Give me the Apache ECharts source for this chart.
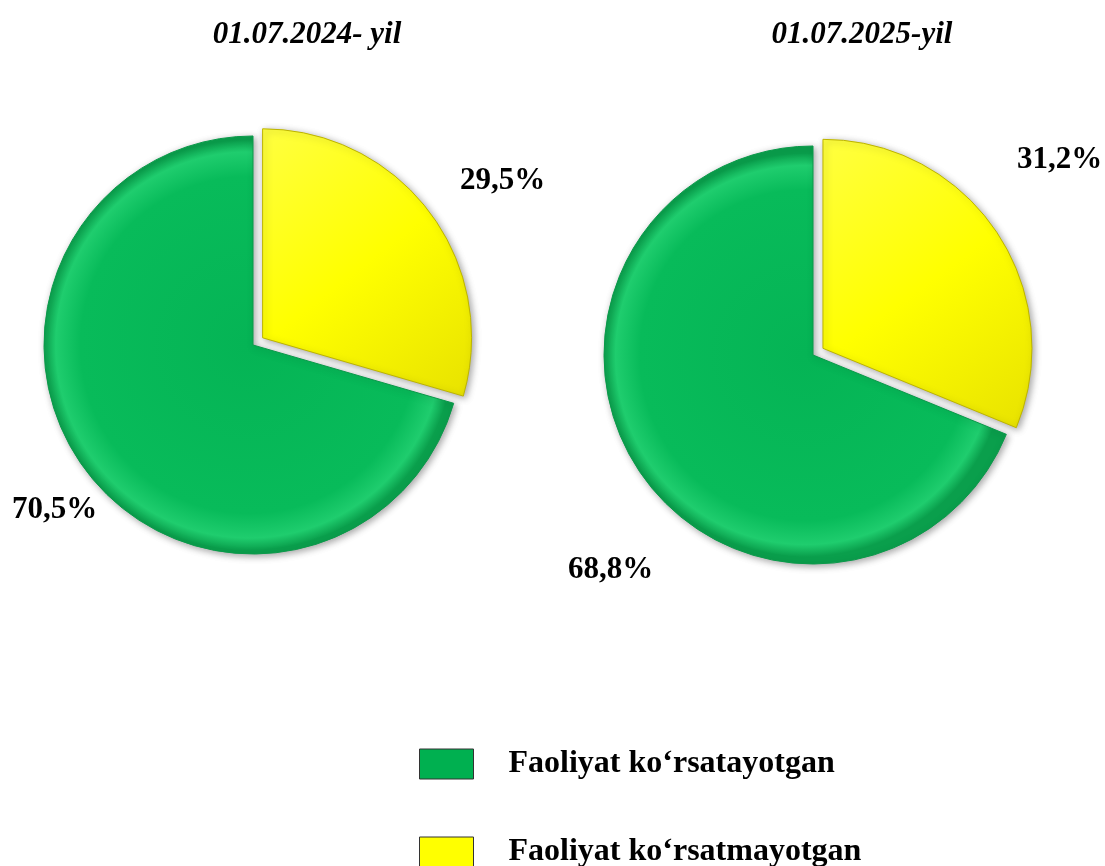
<!DOCTYPE html>
<html>
<head>
<meta charset="utf-8">
<script src="https://cdn.jsdelivr.net/npm/echarts@6/dist/echarts.min.js"></script>
<style>
  html, body { margin: 0; padding: 0; background: #fff; }
  #chart { width: 1105px; height: 866px; }
</style>
</head>
<body>
<div id="chart"></div>
<script>
// data
const categories = ["Faoliyat ko‘rsatmayotgan", "Faoliyat ko‘rsatayotgan"];
const legendOrder = ["Faoliyat ko‘rsatayotgan", "Faoliyat ko‘rsatmayotgan"];
const periods = ["01.07.2024- yil", "01.07.2025-yil"];
const share2024 = [29.5, 70.5];
const share2025 = [31.2, 68.8];
const labels2024 = ["29,5%", "70,5%"];
const labels2025 = ["31,2%", "68,8%"];

// label anchors (left edge, vertical middle) per pie / slice
const labelPos = [
  [[460, 181], [12, 510]],
  [[1017, 160], [568, 570]]
];

const font = "'Liberation Serif', 'DejaVu Serif', serif";
const pieRadius = 209;
const explode = 12;

const greenFill = {
  type: "radial", x: 0.5, y: 0.5, r: 0.5,
  colorStops: [
    { offset: 0, color: "#05b455" },
    { offset: 0.82, color: "#08bb5a" },
    { offset: 0.94, color: "#1fcd6e" },
    { offset: 1, color: "#0a9f4c" }
  ]
};
const yellowFill = {
  type: "linear", x: 0, y: 0, x2: 1, y2: 1,
  colorStops: [
    { offset: 0, color: "#ffff40" },
    { offset: 0.5, color: "#ffff00" },
    { offset: 1, color: "#e8e200" }
  ]
};
const hidden = { color: "rgba(0,0,0,0)", borderWidth: 0, shadowBlur: 0 };

// one layer of a pie: only slice `show` is painted, the other one stays empty
function layer(idx, center, values, texts, show) {
  return {
    name: periods[idx],
    type: "pie",
    center: center,
    radius: pieRadius,
    startAngle: 90,
    clockwise: true,
    animation: false,
    silent: true,
    emphasis: { disabled: true },
    itemStyle: {
      shadowBlur: 7,
      shadowColor: "rgba(0,0,0,0.35)",
      shadowOffsetX: 2,
      shadowOffsetY: 2
    },
    label: {
      show: true,
      position: "outside",
      overflow: "none",
      fontFamily: font,
      fontWeight: "bold",
      fontSize: 31,
      color: "#000"
    },
    labelLine: { show: false },
    labelLayout: (p) => ({
      x: labelPos[idx][p.dataIndex][0],
      y: labelPos[idx][p.dataIndex][1],
      align: "left",
      verticalAlign: "middle"
    }),
    data: values.map((v, i) => ({
      name: categories[i],
      value: v,
      label: { show: i === show, formatter: texts[i] },
      itemStyle: i !== show ? hidden
        : i === 0
          ? { color: yellowFill, borderColor: "#bdb400", borderWidth: 1 }
          : { color: greenFill, borderColor: "#0a9a4a", borderWidth: 1 }
    }))
  };
}

function pie(idx, center, values, texts) {
  // pull the small slice out along its middle angle
  const mid = (90 - values[0] / (values[0] + values[1]) * 180) * Math.PI / 180;
  const moved = [center[0] + explode * Math.cos(mid), center[1] - explode * Math.sin(mid)];
  return [
    layer(idx, center, values, texts, 1),
    layer(idx, moved, values, texts, 0)
  ];
}

const chart = echarts.init(document.getElementById("chart"));

const titleStyle = { fontFamily: font, fontStyle: "italic", fontWeight: "bold", fontSize: 31, color: "#000" };
const legendText = { fontFamily: font, fontWeight: "bold", fontSize: 32, color: "#000", padding: [0, 0, 0, 30] };

const option = {
  backgroundColor: "#fff",
  title: [
    { text: periods[0], left: 302, top: 14, textAlign: "center", textStyle: titleStyle },
    { text: periods[1], left: 857, top: 14, textAlign: "center", textStyle: titleStyle }
  ],
  legend: [
    {
      data: [{ name: legendOrder[0], itemStyle: { color: "#00b050" } }],
      left: 414, top: 743,
      itemWidth: 54, itemHeight: 30,
      selectedMode: false, icon: "rect",
      itemStyle: { borderColor: "#333", borderWidth: 1 },
      textStyle: legendText
    },
    {
      data: [{ name: legendOrder[1], itemStyle: { color: "#ffff00" } }],
      left: 414, top: 831,
      itemWidth: 54, itemHeight: 30,
      selectedMode: false, icon: "rect",
      itemStyle: { borderColor: "#333", borderWidth: 1 },
      textStyle: legendText
    }
  ],
  series: [
    ...pie(0, [253, 345], share2024, labels2024),
    ...pie(1, [813, 355], share2025, labels2025)
  ]
};

chart.setOption(option);
window.onresize = () => chart.resize();
</script>
</body>
</html>
